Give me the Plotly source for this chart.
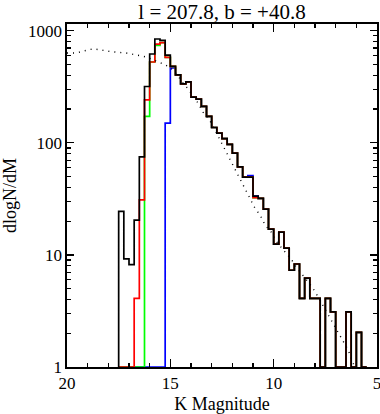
import plotly.graph_objects as go

# histogram bin edges (K magnitude), faint -> bright
edges = [17.5, 17.25, 17.0, 16.75, 16.5, 16.25, 16.0, 15.75, 15.5, 15.25, 15.0,
         14.75, 14.5, 14.25, 14.0, 13.75, 13.5, 13.25, 13.0, 12.75, 12.5, 12.25,
         12.0, 11.75, 11.5, 11.25, 11.0, 10.75, 10.5, 10.25, 10.0, 9.75, 9.5,
         9.25, 9.0, 8.75, 8.5, 8.25, 8.0, 7.75, 7.5, 7.25, 7.0, 6.75, 6.5, 6.25,
         6.0, 5.75, 5.5]

black = [24.5, 9.2, 8.2, 20.4, 75, 318, 620, 844, 820, 607, 480, 403, 335, 349,
         256, 245, 211, 172, 137, 122, 109, 97, 81, 61, 49.4, 49.4, 33.5, 32,
         25.6, 17, 12.5, 16, 11.5, 7.3, 8.3, 4.1, 6.2, 4.1, 4.1, 0, 4.1, 3.1,
         0, 0, 3.1, 0, 2.04, 0]

red = [0, 0, 0, 4.1, 31, 242, 526, 760, 782, 578, 480, 403, 335, 349,
       256, 245, 211, 172, 137, 122, 109, 97, 81, 61, 49.4, 49.4, 32.5, 32,
       25.6, 17, 12.5, 16, 11.5, 7.3, 8.3, 4.1, 6.2, 4.1, 4.1, 0, 4.1, 3.1,
       0, 0, 3.1, 0, 2.04, 0]

green = [0, 0, 0, 0, 0, 172, 526, 739, 782, 578, 480, 403, 335, 349,
         256, 245, 211, 172, 137, 122, 109, 97, 81, 61, 49.4, 49.4, 32.5, 32,
         25.6, 17, 12.5, 16, 11.5, 7.3, 8.3, 4.1, 6.2, 4.1, 4.1, 0, 4.1, 3.1,
         0, 0, 3.1, 0, 2.04, 0]

blue = [0, 0, 0, 0, 0, 0, 0, 0, 0, 150, 465, 403, 335, 349,
        256, 245, 211, 172, 137, 122, 109, 97, 81, 61, 49.4, 51, 33.5, 32,
        25.6, 17, 12.5, 16, 11.5, 7.3, 8.3, 4.1, 6.2, 4.1, 4.1, 0, 4.1, 3.1,
        0, 0, 3.1, 0, 2.04, 0]

# model curve (dotted)
model_mag = [20.0, 19.64, 19.39, 19.15, 18.91, 18.67, 18.42, 18.18, 17.91, 17.62,
             17.37, 17.13, 16.89, 16.65, 16.37, 16.11, 15.84, 15.6, 15.36, 15.11,
             14.87, 14.63, 14.39, 14.14, 13.9, 13.66, 13.42, 13.13, 12.86, 12.64,
             12.4, 12.16, 11.91, 11.64, 11.38, 11.14, 10.9, 10.65, 10.41, 10.12,
             9.88, 9.64, 9.39, 9.15, 8.91, 8.67, 8.38, 8.13, 7.87, 7.65, 7.41,
             7.16, 6.87, 6.63, 6.39, 6.15, 5.9]
model_val = [632, 632, 645, 666, 680, 687, 680, 666, 652, 645,
             645, 632, 620, 611, 595, 578, 552, 532, 507, 480,
             447, 395, 341, 303, 263, 226, 188, 163, 132, 110,
             90, 73, 59, 48, 38.6, 32, 26, 22.6, 18.4, 16,
             13.3, 11.7, 10.2, 9.15, 7.8, 6.86, 5.94, 5.15, 4.28, 3.63, 3.02,
             2.56, 2.04, 1.73, 1.41, 1.08, 0.85]

x_ticks = [20, 15, 10, 5]
y_ticks = [1, 10, 100, 1000]
title_text = "l = 207.8, b = +40.8"

BASE = 1.0  # empty bins drawn on the plot floor


def step(vals):
    ys = [v if v > 0 else BASE for v in vals]
    return [edges[0]] + edges, [BASE] + ys + [ys[-1]]


fig = go.Figure()
for vals, col in [(blue, "#0000ff"), (green, "#00ff00"), (red, "#ff0000"), (black, "#000000")]:
    xs, ys = step(vals)
    fig.add_trace(go.Scatter(x=xs, y=ys, mode="lines", line=dict(color=col, width=1.7, shape="hv"),
                             hoverinfo="skip", showlegend=False))

fig.add_trace(go.Scatter(x=model_mag, y=model_val, mode="lines",
                         line=dict(color="black", width=1.4, dash="1px,5px"),
                         hoverinfo="skip", showlegend=False))

minor_y = [m * 10 ** k for k in range(3) for m in range(2, 10)]
fnt = "Liberation Serif"

W, H = 380, 414
fig.update_layout(
    width=W, height=H,
    margin=dict(l=67, r=3, t=24, b=47),
    paper_bgcolor="white", plot_bgcolor="white",
    font=dict(family=fnt, color="black", size=17),
    title=dict(text=title_text, x=0.5, xref="paper", xanchor="center",
               y=1 - 12 / H, yref="container", yanchor="middle",
               font=dict(family=fnt, size=21, color="black")),
    xaxis=dict(range=[20, 5], tickvals=x_ticks, ticktext=[str(v) for v in x_ticks],
               ticks="inside", ticklen=8, tickwidth=1.2, tickcolor="black",
               showline=True, linewidth=1.7, linecolor="black", mirror="ticks",
               showgrid=False, zeroline=False, automargin=False,
               tickfont=dict(size=17), ticklabeloverflow="allow",
               minor=dict(dtick=1, tick0=0, ticks="inside", ticklen=4, tickwidth=1.2,
                          tickcolor="black", showgrid=False),
               title=dict(text="K Magnitude", font=dict(size=18), standoff=6)),
    yaxis=dict(type="log", range=[0, 3.06], tickvals=y_ticks, ticktext=[str(v) for v in y_ticks],
               ticks="inside", ticklen=7, tickwidth=1.2, tickcolor="black",
               showline=True, linewidth=1.7, linecolor="black", mirror="ticks",
               showgrid=False, zeroline=False, automargin=False,
               tickfont=dict(size=17),
               minor=dict(tickvals=minor_y, ticks="inside", ticklen=4, tickwidth=1.2,
                          tickcolor="black", showgrid=False),
               title=dict(text="dlogN/dM", font=dict(size=18), standoff=8)),
)

# remove the browser's default 8px body margin so the figure sits at the page origin
fig.write_html("out.html", config={"displayModeBar": False, "staticPlot": True},
               post_script="document.body.style.margin='0';")
